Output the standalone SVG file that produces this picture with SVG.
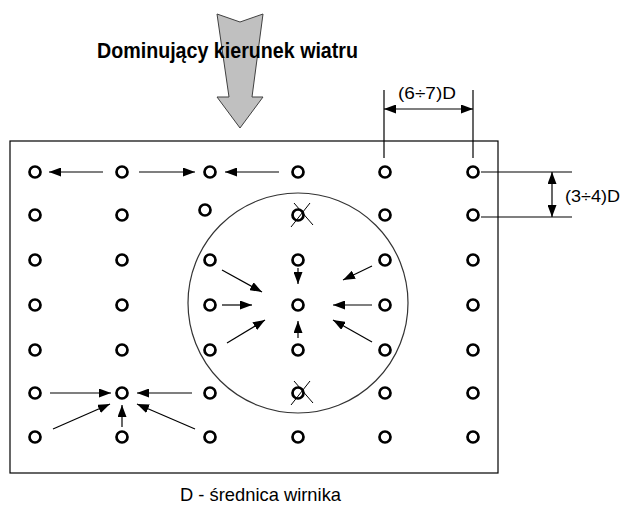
<svg xmlns="http://www.w3.org/2000/svg" width="621" height="506" viewBox="0 0 621 506">
  <style>
    .t { font-family: "Liberation Sans", Arial, sans-serif; fill: #000; }
    .turbine circle { fill: none; stroke: #000; stroke-width: 2.7; }
    .conn line { stroke: #000; stroke-width: 1.2; }
    .dim line { stroke: #000; stroke-width: 1.2; }
    .cross line { stroke: #000; stroke-width: 1; }
  </style>
  <defs>
    <marker id="ah" viewBox="0 0 12 9" refX="12" refY="4.5" markerWidth="12" markerHeight="9" markerUnits="userSpaceOnUse" orient="auto-start-reverse">
      <path d="M0,0 L12,4.5 L0,9 z" fill="#000"/>
    </marker>
  </defs>

  <rect width="621" height="506" fill="#fff"/>

  <!-- wind direction arrow -->
  <g id="wind">
    <polygon points="217,14 240,22 263,14 252,97 263,97 240,128 217,97 229,97" fill="#c0c0c0" stroke="#404040" stroke-width="1"/>
    <text class="t" x="97" y="58" font-size="22" font-weight="bold" textLength="261" lengthAdjust="spacingAndGlyphs">Dominujący kierunek wiatru</text>
  </g>

  <!-- wind farm area -->
  <g id="farm">
    <rect x="10" y="141" width="488" height="332" fill="none" stroke="#000" stroke-width="1.2"/>
    <circle cx="298" cy="303" r="110" fill="none" stroke="#333" stroke-width="1.2"/>
  </g>

  <!-- turbines -->
  <g id="turbines" class="turbine">
    <g id="r1">
      <circle cx="35" cy="172" r="5.5"/><circle cx="122" cy="172" r="5.5"/><circle cx="210" cy="172" r="5.5"/>
      <circle cx="298" cy="172" r="5.5"/><circle cx="385" cy="172" r="5.5"/><circle cx="473" cy="172" r="5.5"/>
    </g>
    <g id="r2">
      <circle cx="35" cy="215" r="5.5"/><circle cx="122" cy="215" r="5.5"/><circle cx="205" cy="210" r="5.5"/>
      <circle cx="298" cy="215" r="5.5"/><circle cx="385" cy="215" r="5.5"/><circle cx="473" cy="215" r="5.5"/>
    </g>
    <g id="r3">
      <circle cx="35" cy="260" r="5.5"/><circle cx="122" cy="260" r="5.5"/><circle cx="210" cy="260" r="5.5"/>
      <circle cx="298" cy="260" r="5.5"/><circle cx="385" cy="260" r="5.5"/><circle cx="473" cy="260" r="5.5"/>
    </g>
    <g id="r4">
      <circle cx="35" cy="305" r="5.5"/><circle cx="122" cy="305" r="5.5"/><circle cx="210" cy="305" r="5.5"/>
      <circle cx="298" cy="305" r="5.5" stroke-width="3"/><circle cx="385" cy="305" r="5.5"/><circle cx="473" cy="305" r="5.5"/>
    </g>
    <g id="r5">
      <circle cx="35" cy="350" r="5.5"/><circle cx="122" cy="350" r="5.5"/><circle cx="210" cy="350" r="5.5"/>
      <circle cx="298" cy="350" r="5.5"/><circle cx="385" cy="350" r="5.5"/><circle cx="473" cy="350" r="5.5"/>
    </g>
    <g id="r6">
      <circle cx="35" cy="393" r="5.5"/><circle cx="122" cy="393" r="5.5"/><circle cx="210" cy="393" r="5.5"/>
      <circle cx="298" cy="393" r="5.5"/><circle cx="385" cy="393" r="5.5"/><circle cx="473" cy="393" r="5.5"/>
    </g>
    <g id="r7">
      <circle cx="35" cy="437" r="5.5"/><circle cx="122" cy="437" r="5.5"/><circle cx="210" cy="437" r="5.5"/>
      <circle cx="298" cy="437" r="5.5"/><circle cx="385" cy="437" r="5.5"/><circle cx="473" cy="437" r="5.5"/>
    </g>
  </g>

  <!-- removed turbines -->
  <g id="removed" class="cross">
    <line x1="291" y1="227" x2="310" y2="203"/><line x1="294" y1="203" x2="313" y2="225"/>
    <line x1="291" y1="405" x2="310" y2="381"/><line x1="294" y1="381" x2="313" y2="403"/>
  </g>

  <!-- wake interaction arrows -->
  <g id="connectors" class="conn">
    <line x1="103" y1="172" x2="49" y2="172" marker-end="url(#ah)"/>
    <line x1="139" y1="172" x2="195" y2="172" marker-end="url(#ah)"/>
    <line x1="279" y1="172" x2="225" y2="172" marker-end="url(#ah)"/>

    <line x1="298" y1="268" x2="298" y2="284" marker-end="url(#ah)"/>
    <line x1="298" y1="338" x2="298" y2="321" marker-end="url(#ah)"/>
    <line x1="222" y1="305" x2="252" y2="305" marker-end="url(#ah)"/>
    <line x1="372" y1="305" x2="333" y2="305" marker-end="url(#ah)"/>
    <line x1="222" y1="270" x2="262" y2="292" marker-end="url(#ah)"/>
    <line x1="227" y1="343" x2="265" y2="320" marker-end="url(#ah)"/>
    <line x1="372" y1="266" x2="343" y2="280" marker-end="url(#ah)"/>
    <line x1="372" y1="342" x2="333" y2="320" marker-end="url(#ah)"/>

    <line x1="50" y1="393" x2="111" y2="393" marker-end="url(#ah)"/>
    <line x1="192" y1="393" x2="137" y2="393" marker-end="url(#ah)"/>
    <line x1="53" y1="429" x2="110" y2="404" marker-end="url(#ah)"/>
    <line x1="122" y1="427" x2="122" y2="405" marker-end="url(#ah)"/>
    <line x1="195" y1="429" x2="137" y2="404" marker-end="url(#ah)"/>
  </g>

  <!-- spacing dimensions -->
  <g id="dim-x" class="dim">
    <line x1="384" y1="90" x2="384" y2="158"/>
    <line x1="473" y1="90" x2="473" y2="158"/>
    <line x1="384" y1="109" x2="473" y2="109" marker-start="url(#ah)" marker-end="url(#ah)"/>
    <text class="t" x="398" y="99" font-size="16.5" textLength="58" lengthAdjust="spacingAndGlyphs">(6÷7)D</text>
  </g>
  <g id="dim-y" class="dim">
    <line x1="481" y1="172" x2="572" y2="172"/>
    <line x1="481" y1="217" x2="572" y2="217"/>
    <line x1="552" y1="172" x2="552" y2="217" marker-start="url(#ah)" marker-end="url(#ah)"/>
    <text class="t" x="565" y="202" font-size="16.5" textLength="55" lengthAdjust="spacingAndGlyphs">(3÷4)D</text>
  </g>

  <g id="legend">
    <text class="t" x="180" y="501" font-size="19" textLength="161" lengthAdjust="spacingAndGlyphs">D - średnica wirnika</text>
  </g>
</svg>
